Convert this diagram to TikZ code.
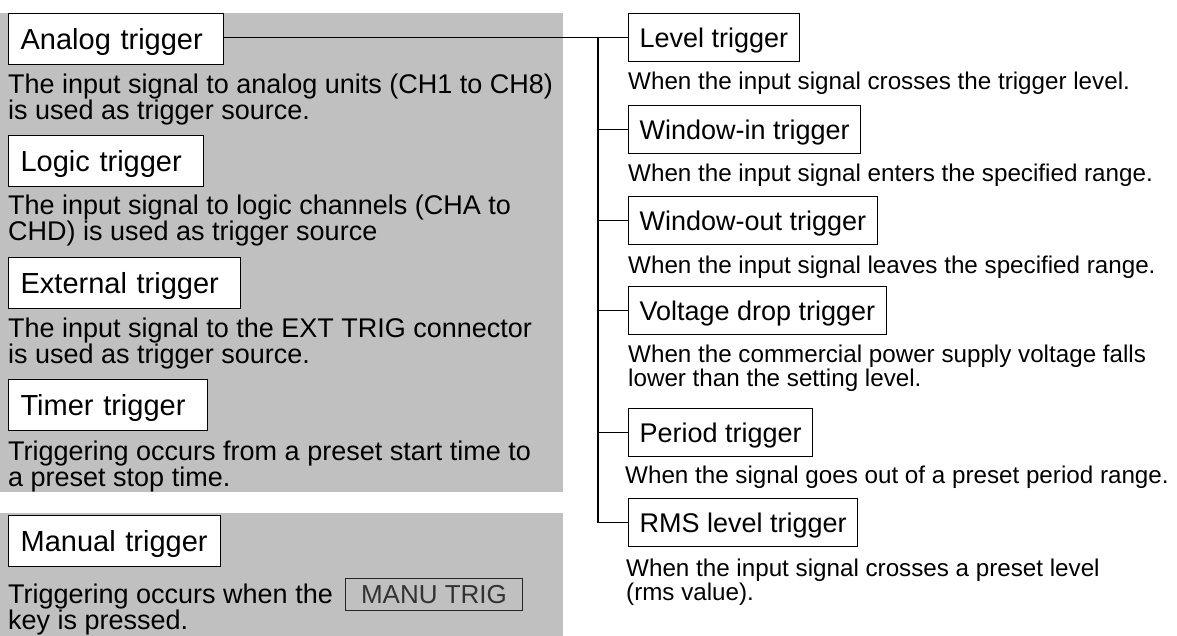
\documentclass[tikz,border=0pt]{standalone}
\usepackage{fontspec}
\setmainfont{Liberation Sans}
\definecolor{panelgrey}{HTML}{C0C0C0}
\begin{document}
\begin{tikzpicture}[x=1pt,y=-1pt,
  conn/.style={draw=black, line width=1.2pt},
  lbl/.style={draw=black, line width=1.2pt, fill=white, anchor=north west,
    inner xsep=12pt, inner ysep=0pt, minimum height=51pt, align=left,
    font=\fontsize{29}{29}\selectfont, text height=21pt, text depth=0pt},
  rlbl/.style={draw=black, line width=1.2pt, fill=white, anchor=north west,
    inner xsep=11pt, inner ysep=0pt, minimum height=48pt,
    font=\fontsize{27}{27}\selectfont, text height=19.4pt, text depth=0pt},
  ldesc/.style={anchor=base west, inner sep=0pt, align=left,
    font=\fontsize{27}{26}\selectfont},
  rdesc/.style={anchor=base west, inner sep=0pt, align=left,
    font=\fontsize{24.2}{24}\selectfont},
  keybox/.style={draw=black!85, line width=1pt, anchor=north west,
    minimum width=177pt, minimum height=32pt, inner sep=0pt,
    text=black!80, font=\fontsize{26}{26}\selectfont}
]
\useasboundingbox (0,0) rectangle (1177,636);
% grey panels
\fill[panelgrey] (0,13) rectangle (563,492);
\fill[panelgrey] (0,513) rectangle (563,636);

% left column (description nodes are anchored at the baseline of their last line)
\node[lbl, text width=191pt] (analog) at (8,13) {Analog trigger};
\node[ldesc] (analogd) at (8,120) {The input signal to analog units (CH1 to CH8)\\is used as trigger source.};
\node[lbl, text width=171pt] (logic) at (8,135) {Logic trigger};
\node[ldesc] (logicd) at (8,241) {The input signal to logic channels (CHA to\\CHD) is used as trigger source};
\node[lbl, text width=208pt] (ext) at (8,257) {External trigger};
\node[ldesc] (extd) at (8,363) {The input signal to the EXT TRIG connector\\is used as trigger source.};
\node[lbl, text width=175pt] (timer) at (8,379) {Timer trigger};
\node[ldesc] (timerd) at (8,486) {Triggering occurs from a preset start time to\\a preset stop time.};
\node[lbl, text width=188pt] (manual) at (8,515) {Manual trigger};
\node[ldesc] (manuald) at (8,629) {Triggering occurs when the\\key is pressed.};
\node[keybox] (key) at (345,578) {MANU TRIG};

% right column
\node[rlbl] (lvl) at (628,13) {Level trigger};
\node[rdesc] (lvld) at (628,90) {When the input signal crosses the trigger level.};
\node[rlbl] (win) at (628,105) {Window-in trigger};
\node[rdesc] (wind) at (628,182) {When the input signal enters the specified range.};
\node[rlbl] (wout) at (628,196) {Window-out trigger};
\node[rdesc] (woutd) at (628,273) {When the input signal leaves the specified range.};
\node[rlbl] (volt) at (628,286) {Voltage drop trigger};
\node[rdesc] (voltd) at (628,386) {When the commercial power supply voltage falls\\lower than the setting level.};
\node[rlbl] (per) at (628,408) {Period trigger};
\node[rdesc] (perd) at (625,483) {When the signal goes out of a preset period range.};
\node[rlbl] (rms) at (628,498) {RMS level trigger};
\node[rdesc] (rmsd) at (626,600) {When the input signal crosses a preset level\\(rms value).};

% connectors
\path (lvl.west) ++(-30,0) coordinate (tj);
\draw[conn] (analog.east |- lvl.west) -- (lvl.west);
\draw[conn] (tj) |- (rms.west);
\draw[conn] (tj |- win.west) -- (win.west);
\draw[conn] (tj |- wout.west) -- (wout.west);
\draw[conn] (tj |- volt.west) -- (volt.west);
\draw[conn] (tj |- per.west) -- (per.west);
\end{tikzpicture}
\end{document}
